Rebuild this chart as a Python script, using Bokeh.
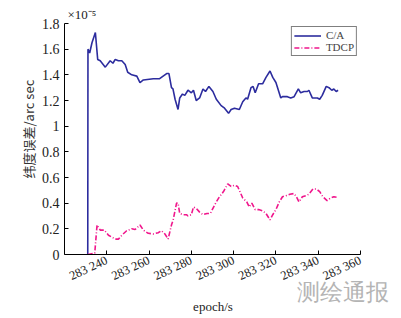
import math
from bokeh.plotting import figure
from bokeh.models import FixedTicker, Label, Legend, LegendItem, Title
from bokeh.embed import file_html
from bokeh.resources import INLINE

# C/A latitude error (units of 1e-5 arc sec)
ca_t = [283231.0, 283231.1, 283231.9, 283233.0, 283234.6, 283235.7, 283236.9, 283239.3, 283241.6, 283242.9,
        283244.0, 283245.5, 283247.1, 283248.7, 283249.9, 283251.8, 283254.2, 283255.7, 283257.3, 283262.0,
        283265.0, 283268.3, 283269.4, 283270.6, 283271.3, 283272.3, 283273.7, 283274.5, 283275.8, 283276.9,
        283278.4, 283280.0, 283281.0, 283282.3, 283283.9, 283285.5, 283286.7, 283288.3, 283290.2, 283291.8,
        283294.1, 283295.7, 283297.6, 283298.8, 283300.4, 283302.7, 283304.3, 283305.8, 283306.6, 283308.2,
        283309.2, 283310.2, 283311.8, 283313.7, 283315.3, 283317.2, 283318.5, 283320.0, 283322.3, 283323.1,
        283325.4, 283327.0, 283328.6, 283330.6, 283331.7, 283333.3, 283334.9, 283335.6, 283337.2, 283339.6,
        283340.7, 283341.9, 283343.8, 283345.1, 283346.4, 283347.4, 283348.5, 283349.4]
ca_v = [0.00, 1.60, 1.57, 1.65, 1.73, 1.52, 1.51, 1.46, 1.51, 1.49,
        1.52, 1.51, 1.51, 1.48, 1.42, 1.40, 1.39, 1.34, 1.36, 1.37,
        1.37, 1.41, 1.41, 1.30, 1.29, 1.21, 1.13, 1.22, 1.25, 1.24,
        1.28, 1.26, 1.28, 1.20, 1.22, 1.29, 1.27, 1.31, 1.27, 1.21,
        1.16, 1.14, 1.10, 1.13, 1.14, 1.13, 1.19, 1.22, 1.21, 1.30,
        1.31, 1.26, 1.33, 1.33, 1.38, 1.43, 1.38, 1.34, 1.22, 1.23,
        1.23, 1.22, 1.23, 1.29, 1.26, 1.27, 1.27, 1.28, 1.22, 1.22,
        1.21, 1.24, 1.31, 1.30, 1.28, 1.29, 1.27, 1.28]

# TDCP latitude error (units of 1e-5 arc sec)
tdcp_t = [283231.0, 283234.3, 283235.4, 283236.9, 283238.8, 283240.8, 283244.0, 283245.5, 283247.1, 283249.4,
          283251.8, 283253.4, 283255.7, 283257.3, 283259.6, 283262.0, 283264.3, 283265.9, 283267.5, 283269.0,
          283270.6, 283271.4, 283273.0, 283273.7, 283274.5, 283276.1, 283277.7, 283278.4, 283280.0, 283281.0,
          283282.3, 283283.9, 283285.5, 283287.4, 283289.0, 283290.2, 283291.8, 283293.3, 283295.2, 283297.2,
          283298.8, 283300.4, 283301.9, 283304.3, 283306.2, 283307.4, 283308.6, 283310.2, 283311.8, 283313.7,
          283315.3, 283317.2, 283318.5, 283320.0, 283321.6, 283323.1, 283325.0, 283326.6, 283328.6, 283329.7,
          283330.9, 283332.5, 283334.4, 283335.6, 283337.5, 283339.1, 283340.7, 283342.2, 283344.2, 283345.8,
          283347.4, 283349.0]
tdcp_v = [0.00, 0.01, 0.23, 0.19, 0.19, 0.15, 0.12, 0.12, 0.15, 0.185,
          0.20, 0.195, 0.23, 0.19, 0.165, 0.16, 0.17, 0.185, 0.16, 0.12,
          0.23, 0.27, 0.40, 0.40, 0.32, 0.31, 0.31, 0.30, 0.31, 0.37,
          0.36, 0.33, 0.31, 0.32, 0.32, 0.36, 0.41, 0.45, 0.49, 0.55,
          0.53, 0.54, 0.53, 0.44, 0.41, 0.37, 0.40, 0.35, 0.35, 0.34,
          0.32, 0.27, 0.31, 0.35, 0.41, 0.45, 0.46, 0.47, 0.475, 0.45,
          0.41, 0.45, 0.46, 0.47, 0.51, 0.51, 0.49, 0.45, 0.42, 0.44,
          0.45, 0.445]

x_ticks = [283240, 283260, 283280, 283300, 283320, 283340, 283360]
x_tick_labels = ["283 240", "283 260", "283 280", "283 300", "283 320", "283 340", "283 360"]
y_ticks = [0, 0.2, 0.4, 0.6, 0.8, 1.0, 1.2, 1.4, 1.6, 1.8]
y_tick_labels = ["0", "0.2", "0.4", "0.6", "0.8", "1", "1.2", "1.4", "1.6", "1.8"]
series_names = ["C/A", "TDCP"]
y_title = "纬度误差/arc sec"
x_title = "epoch/s"
exponent = "×10⁻⁵"
watermark = "测绘通报"

SERIF = "Liberation Serif"
X0, X1 = 283220, 283360
PX_PER_S = 42.55 / 20      # frame pixels per second
PX_PER_UNIT = 128.9        # frame pixels per 1e-5 arc sec

p = figure(width=401, height=318, x_range=(X0, X1), y_range=(0, 1.8),
           output_backend="svg", toolbar_location=None,
           min_border_left=64, min_border_right=41, min_border_top=23, min_border_bottom=63)
p.outline_line_color = None
p.xgrid.visible = False
p.ygrid.visible = False
p.background_fill_color = "white"
p.border_fill_color = "white"

r1 = p.line(ca_t, ca_v, line_color="#2c2c9e", line_width=1.6)
r2 = p.line(tdcp_t, tdcp_v, line_color="#f0168c", line_width=1.6, line_dash="5 2 1 2")

for ax in (p.xaxis[0], p.yaxis[0]):
    ax.axis_line_color = "black"
    ax.major_tick_line_color = "black"
    ax.major_tick_in = 4
    ax.major_tick_out = 0
    ax.minor_tick_line_color = None
    ax.major_label_text_font = SERIF
    ax.major_label_text_color = "#222222"

p.xaxis.ticker = FixedTicker(ticks=x_ticks)
p.xaxis.major_label_overrides = {t: s for t, s in zip(x_ticks, x_tick_labels)}
p.xaxis.major_label_orientation = math.radians(25)
p.xaxis.major_label_text_font_size = "12.5px"
p.xaxis.major_label_standoff = 5

p.yaxis.ticker = FixedTicker(ticks=y_ticks)
p.yaxis.major_label_overrides = {t: s for t, s in zip(y_ticks, y_tick_labels)}
p.yaxis.major_label_text_font_size = "14px"
p.yaxis.major_label_standoff = 5

legend = Legend(items=[LegendItem(label=series_names[0], renderers=[r1]),
                       LegendItem(label=series_names[1], renderers=[r2])],
                location="top_right")
legend.label_text_font = SERIF
legend.label_text_font_size = "11px"
legend.border_line_color = "black"
legend.border_line_width = 1
legend.background_fill_alpha = 1
legend.glyph_width = 27
legend.glyph_height = 11
legend.label_standoff = 5
legend.padding = 2
legend.spacing = 0
legend.margin = 3
legend.label_height = 11
p.add_layout(legend)

# y-axis title as a side title, starting above the frame bottom as in the original
p.add_layout(Title(text=y_title, align="left", offset=76, standoff=2,
                   text_font="Noto Sans CJK SC", text_font_size="13px",
                   text_font_style="normal", text_color="#333333"), "left")

# axis exponent above the top-left corner of the frame
p.add_layout(Title(text=exponent, align="left", offset=3, standoff=4,
                   text_font=SERIF, text_font_size="13px",
                   text_font_style="normal", text_color="#222222"), "above")

# x-axis title (placed in data space below the frame; hosted in the right side panel)
p.add_layout(Label(x=X0 + (213.4 - 64) / PX_PER_S, y=-(307 - 254.5) / PX_PER_UNIT, text=x_title,
                   text_align="center", text_baseline="middle",
                   text_font=SERIF, text_font_size="13px", text_color="#222222"), "right")

# journal watermark at the lower right (hosted in the bottom side panel)
p.add_layout(Label(x=X0 + (298 - 64) / PX_PER_S, y=-(292.5 - 254.5) / PX_PER_UNIT, text=watermark,
                   text_align="left", text_baseline="middle",
                   text_font="Liberation Sans", text_font_size="23px", text_color="#b4b4b4"), "below")

open("out.html", "w").write(file_html(p, INLINE))
